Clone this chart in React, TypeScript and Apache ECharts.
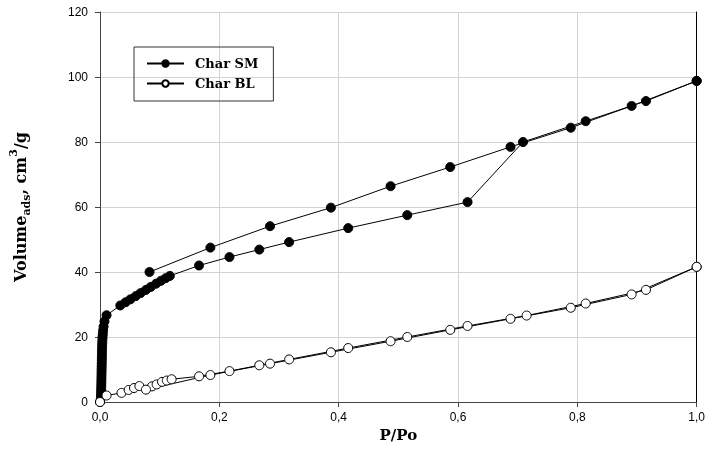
import React, { useEffect, useRef } from 'react';
import * as echarts from 'echarts';

// Char SM – adsorption branch
const smAdsP = [0, 0.0015, 0.0017, 0.0018, 0.002, 0.0021, 0.0022, 0.0023, 0.0024, 0.0025, 0.0026, 0.0027, 0.0028, 0.0029, 0.003, 0.0031, 0.0032, 0.0033, 0.0034, 0.0036, 0.0038, 0.004, 0.0043, 0.0047, 0.0052, 0.006, 0.0075, 0.011, 0.034, 0.043, 0.051, 0.06, 0.068, 0.077, 0.085, 0.094, 0.102, 0.11, 0.117, 0.166, 0.217, 0.267, 0.317, 0.416, 0.515, 0.616, 0.709, 0.814, 0.915, 1.0];
const smAdsV = [0, 1.2, 2.1, 3.0, 3.9, 4.8, 5.7, 6.6, 7.5, 8.4, 9.3, 10.2, 11.1, 12.0, 12.9, 13.8, 14.7, 15.6, 16.5, 17.4, 18.3, 19.2, 20.1, 21.0, 22.0, 23.2, 24.8, 26.7, 29.7, 30.7, 31.6, 32.6, 33.5, 34.5, 35.4, 36.4, 37.3, 38.1, 38.8, 42.0, 44.6, 46.9, 49.2, 53.5, 57.5, 61.5, 80.0, 86.4, 92.6, 98.8];
// Char SM – desorption branch
const smDesP = [1.0, 0.891, 0.789, 0.688, 0.587, 0.487, 0.387, 0.285, 0.185, 0.083];
const smDesV = [98.8, 91.1, 84.4, 78.5, 72.3, 66.4, 59.8, 54.1, 47.5, 40.0];
// Char BL – adsorption branch
const blAdsP = [0, 0.011, 0.036, 0.048, 0.057, 0.066, 0.087, 0.095, 0.104, 0.112, 0.12, 0.166, 0.217, 0.267, 0.317, 0.416, 0.515, 0.616, 0.715, 0.814, 0.915, 1.0];
const blAdsV = [0, 2.0, 2.8, 3.7, 4.3, 4.9, 4.8, 5.4, 6.2, 6.6, 7.0, 7.9, 9.5, 11.3, 13.1, 16.6, 20.0, 23.4, 26.6, 30.3, 34.5, 41.6];
// Char BL – desorption branch
const blDesP = [1.0, 0.891, 0.789, 0.688, 0.587, 0.487, 0.387, 0.285, 0.185, 0.077];
const blDesV = [41.6, 33.1, 29.0, 25.6, 22.2, 18.7, 15.3, 11.8, 8.3, 3.8];

const legendNames = ['Char SM', 'Char BL'];
const xTitle = 'P/Po';

const zip = (a: number[], b: number[]) => a.map((v, i) => [v, b[i]]);

const serif = '"DejaVu Serif", "Liberation Serif", serif';
const sans = '"Liberation Sans", Arial, sans-serif';

export default function App() {
  const ref = useRef<HTMLDivElement>(null);
  useEffect(() => {
    const chart = echarts.init(ref.current!, null, { renderer: 'svg' });
    const filled = {
      type: 'line',
      name: legendNames[0],
      symbol: 'circle',
      symbolSize: 9,
      lineStyle: { color: '#000', width: 1 },
      itemStyle: { color: '#000', borderColor: '#000', borderWidth: 1 },
      z: 2,
    };
    const open = {
      type: 'line',
      name: legendNames[1],
      symbol: 'circle',
      symbolSize: 9,
      lineStyle: { color: '#000', width: 1 },
      itemStyle: { color: '#fff', borderColor: '#000', borderWidth: 1 },
      z: 3,
    };
    chart.setOption({
      animation: false,
      grid: { left: 98, right: 11, top: 12, bottom: 67 },
      legend: {
        data: legendNames,
        orient: 'vertical',
        left: 134,
        top: 47,
        borderColor: '#333',
        borderWidth: 1,
        padding: [10, 15, 11, 12],
        itemWidth: 37,
        itemHeight: 8,
        itemGap: 7,
        textStyle: { fontFamily: serif, fontWeight: 'bold', fontSize: 13, color: '#000', padding: [0, 0, 0, 6] },
      },
      xAxis: {
        type: 'value',
        min: 0,
        max: 1,
        interval: 0.2,
        name: xTitle,
        nameLocation: 'middle',
        nameGap: 21,
        nameTextStyle: { fontFamily: serif, fontWeight: 'bold', fontSize: 15, color: '#000' },
        axisLine: { lineStyle: { color: '#444', width: 1 } },
        axisTick: { show: true, inside: false, length: 5, lineStyle: { color: '#444' } },
        axisLabel: {
          fontFamily: sans,
          fontSize: 12,
          color: '#000',
          margin: 9,
          formatter: (v: number) => v.toFixed(1).replace('.', ','),
        },
        splitLine: { show: true, lineStyle: { color: '#d3d3d3', width: 1 } },
      },
      yAxis: [
        {
          type: 'value',
          min: 0,
          max: 120,
          interval: 20,
          name: '{b|Volume}{s|ads}{b|, cm}{p|3}{b|/g}',
          nameLocation: 'middle',
          nameGap: 68,
          nameRotate: 90,
          nameTextStyle: {
            rich: {
              b: { fontFamily: serif, fontWeight: 'bold', fontSize: 16, color: '#000', lineHeight: 24 },
              s: { fontFamily: serif, fontWeight: 'bold', fontSize: 11, color: '#000', lineHeight: 12, verticalAlign: 'bottom' },
              p: { fontFamily: serif, fontWeight: 'bold', fontSize: 11, color: '#000', lineHeight: 12, verticalAlign: 'top' },
            },
          },
          axisLine: { show: true, lineStyle: { color: '#444', width: 1 } },
          axisTick: { show: true, inside: false, length: 5, lineStyle: { color: '#444' } },
          axisLabel: { fontFamily: sans, fontSize: 12, color: '#000', margin: 12 },
          splitLine: { show: true, lineStyle: { color: '#d3d3d3', width: 1 } },
        },
        {
          type: 'value',
          position: 'right',
          min: 0,
          max: 120,
          interval: 20,
          axisLine: { show: true, lineStyle: { color: '#000', width: 1 } },
          axisTick: { show: false },
          axisLabel: { show: false },
          splitLine: { show: false },
        },
      ],
      series: [
        { ...filled, data: zip(smAdsP, smAdsV) },
        { ...filled, data: zip(smDesP, smDesV) },
        { ...open, data: zip(blAdsP, blAdsV) },
        { ...open, data: zip(blDesP, blDesV) },
      ],
    });
    return () => chart.dispose();
  }, []);
  return <div ref={ref} style={{ position: 'fixed', left: 0, top: 0, width: 708, height: 469 }} />;
}
